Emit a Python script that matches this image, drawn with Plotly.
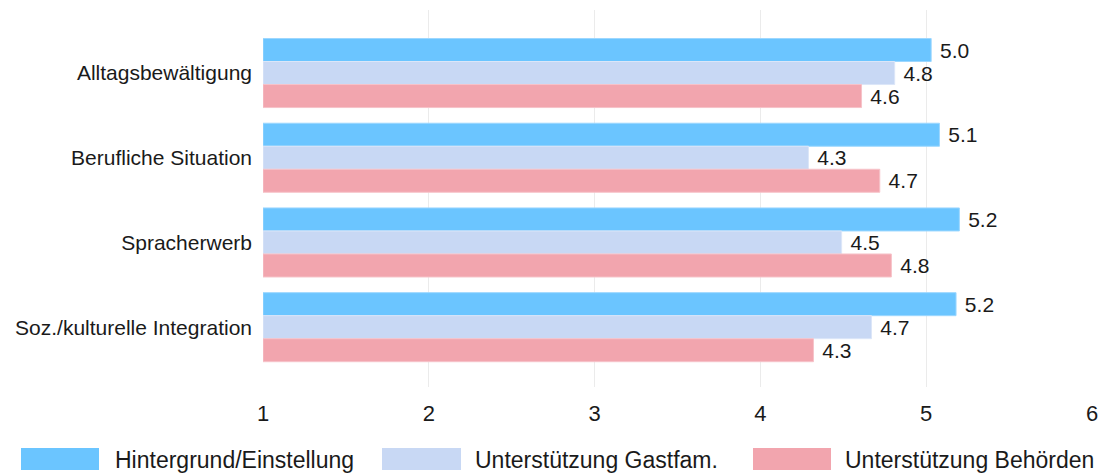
import plotly.graph_objects as go

categories = ["Alltagsbewältigung", "Berufliche Situation", "Spracherwerb", "Soz./kulturelle Integration"]
series_names = ["Hintergrund/Einstellung", "Unterstützung Gastfam.", "Unterstützung Behörden"]
hintergrund = [5.03, 5.08, 5.20, 5.18]
gastfam = [4.81, 4.29, 4.49, 4.67]
behoerden = [4.61, 4.72, 4.79, 4.32]
x_ticks = [1, 2, 3, 4, 5, 6]

colors = ["#6BC5FF", "#C8D8F4", "#F2A5AE"]
borders = ["#9CD7FF", "#DCE6F8", "#F6C3C9"]
FONT = "Liberation Sans, Arial, sans-serif"
FS = 21

W, H = 1103, 474
L, R, T, B = 263, 11, 10, 87
pw, ph = W - L - R, H - T - B


def px(x):
    return (x - L) / pw


def py(y):
    return (H - B - y) / ph


fig = go.Figure()
for name, vals, c, bc in zip(series_names, [hintergrund, gastfam, behoerden], colors, borders):
    fig.add_trace(go.Bar(
        y=categories, x=[v - 1 for v in vals], base=1, orientation="h", name=name,
        marker=dict(color=c, line=dict(color=bc, width=1)),
        text=[f"\u00a0{v:.1f}" for v in vals], textposition="outside",
        textfont=dict(family=FONT, size=FS, color="#1a1a1a"),
        constraintext="none", cliponaxis=False, showlegend=False,
    ))

# custom legend with wide swatches
legend_items = [(21, 99, 113), (382, 461, 473), (753, 831, 843)]
for (x0, x1, tx), name, c in zip(legend_items, series_names, colors):
    fig.add_shape(type="rect", xref="paper", yref="paper",
                  x0=px(x0), x1=px(x1), y0=py(470), y1=py(448),
                  fillcolor=c, line=dict(width=0))
    fig.add_annotation(xref="paper", yref="paper", x=px(tx), y=py(460),
                       text=name, showarrow=False, xanchor="left", yanchor="middle",
                       font=dict(family=FONT, size=23, color="#1a1a1a"))

fig.update_layout(
    width=W, height=H,
    margin=dict(l=L, r=R, t=T, b=B, autoexpand=False),
    barmode="group", bargap=0.185, bargroupgap=0,
    plot_bgcolor="white", paper_bgcolor="white",
    font=dict(family=FONT, size=FS, color="#1a1a1a"),
    xaxis=dict(range=[1, 6], tickvals=x_ticks, showgrid=True, gridcolor="#EBEBEB",
               gridwidth=1, zeroline=False, showline=False, ticks="",
               ticklabelstandoff=11, tickfont=dict(size=22), fixedrange=True),
    yaxis=dict(range=[3.706, -0.744], showgrid=False, zeroline=False, showline=False,
               ticks="", ticklabelstandoff=10, fixedrange=True),
)

fig.write_html("out.html", config={"displayModeBar": False},
               post_script="document.body.style.margin='0';document.body.style.overflow='hidden';")
